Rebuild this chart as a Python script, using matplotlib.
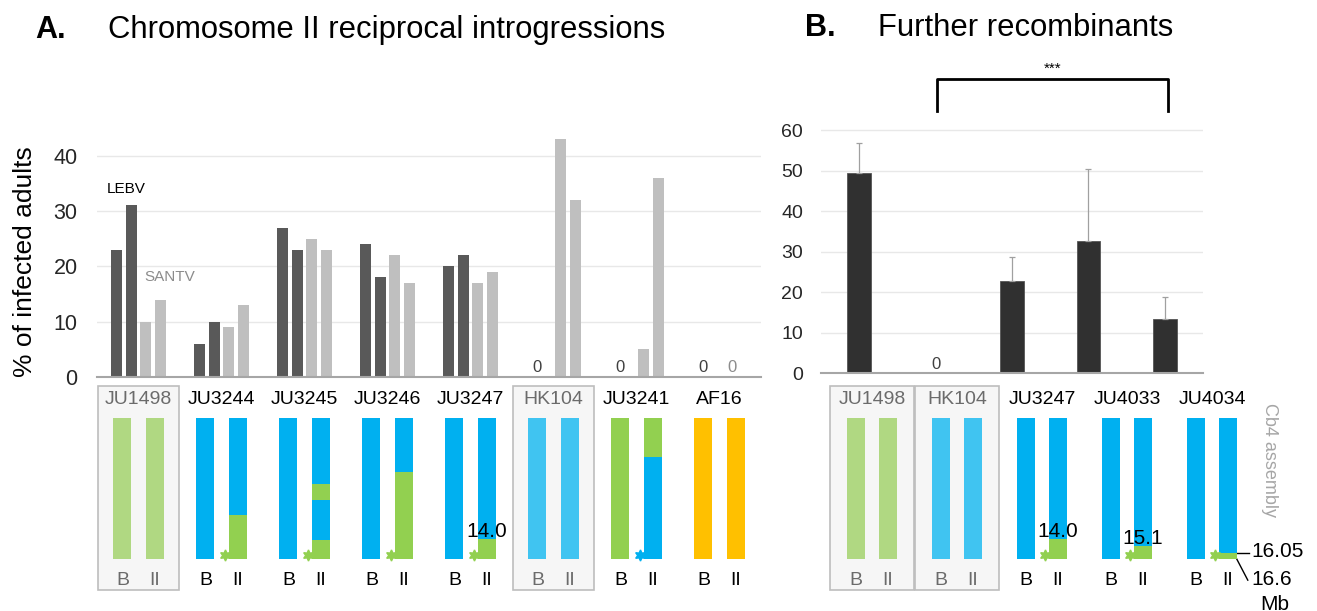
import matplotlib
matplotlib.use("Agg")
import matplotlib.pyplot as plt
from matplotlib.patches import Rectangle

plt.rcParams['font.family'] = ['Liberation Sans', 'DejaVu Sans']

W, H = 1317, 611

# ---- panel A: % infected adults, two replicates per virus
strains_a = ["JU1498", "JU3244", "JU3245", "JU3246", "JU3247", "HK104", "JU3241", "AF16"]
lebv_rep1 = [23, 6, 27, 24, 20, 0, 0, 0]
lebv_rep2 = [31, 10, 23, 18, 22, 0, 0, 0]
santv_rep1 = [10, 9, 25, 22, 17, 43, 5, 0]
santv_rep2 = [14, 13, 23, 17, 19, 32, 36, 0]

# ---- panel B: mean % infected (LEBV) with upper error
strains_b = ["JU1498", "HK104", "JU3247", "JU4033", "JU4034"]
infected_b = [49.3, 0, 22.8, 32.7, 13.3]
err_b = [7.5, 0, 5.8, 17.7, 5.5]

# ---- chromosome diagrams (fraction of chr II from the bottom)
BLUE = '#00b0f0'
GREEN = '#92d050'
PALE_GREEN = '#b0d882'
PALE_BLUE = '#40c4f1'
ORANGE = '#ffc000'

bg_a = [PALE_GREEN, BLUE, BLUE, BLUE, BLUE, PALE_BLUE, GREEN, ORANGE]
introg_a = [[], [(0, 0.31)], [(0, 0.135), (0.42, 0.53)], [(0, 0.62)], [(0, 0.14)], [], [(0, 0.72)], []]
introg_col_a = [None, GREEN, GREEN, GREEN, GREEN, None, BLUE, None]
parental_a = [True, False, False, False, False, True, False, False]
bkpt_a = ["", "", "", "", "14.0", "", "", ""]

bg_b = [PALE_GREEN, PALE_BLUE, BLUE, BLUE, BLUE]
introg_b = [[], [], [(0, 0.14)], [(0, 0.09)], [(0, 0.04)]]
introg_col_b = [None, None, GREEN, GREEN, GREEN]
parental_b = [True, True, False, False, False]
bkpt_b = ["", "", "14.0", "15.1", ""]


def px_axes(x0, y0, x1, y1):
    return fig.add_axes([x0 / W, 1 - y1 / H, (x1 - x0) / W, (y1 - y0) / H])


def style_bar_axes(ax, size, pad):
    for s in ['top', 'right', 'left']:
        ax.spines[s].set_visible(False)
    ax.spines['bottom'].set_color('#a6a6a6')
    ax.spines['bottom'].set_linewidth(1.5)
    ax.tick_params(length=0, labelsize=size, labelcolor='#262626', pad=pad)
    ax.set_xticks([])
    ax.yaxis.grid(True, color='#e8e8e8', lw=1)
    ax.set_axisbelow(True)


def draw_diagrams(ax, strains, bg, introg, introg_col, parental, bkpt, off, bw, unit_px):
    ytop_box = (559 - 386) / 141
    ybot_box = (559 - 590) / 141
    for i, s in enumerate(strains):
        xb, x2 = i - off, i + off
        if parental[i]:
            ax.add_patch(Rectangle((i - 0.49, ybot_box), 0.98, ytop_box - ybot_box,
                                   fc='#f6f6f6', ec='#bdbdbd', lw=1.2, zorder=0, clip_on=False))
        tc = '#6b6b6b' if parental[i] else 'black'
        ax.bar([xb, x2], [1, 1], width=bw, color=bg[i], zorder=2)
        for lo, hi in introg[i]:
            ax.bar(x2, hi - lo, bottom=lo, width=bw, color=introg_col[i], zorder=3)
        if introg[i] and introg[i][0][0] == 0:
            ax.plot(x2 - bw / 2 - 4 / unit_px, 0.03, marker=(6, 1, 0), ms=8,
                    color=introg_col[i], mec=introg_col[i], zorder=4, clip_on=False)
        if bkpt[i]:
            ax.text(x2, introg[i][0][1] - 0.01, bkpt[i], ha='center', va='bottom', fontsize=15, zorder=5)
        ax.text(i, 1.128, s, ha='center', va='center', fontsize=14, color=tc)
        ax.text(xb, -0.149, 'B', ha='center', va='center', fontsize=14, color=tc)
        ax.text(x2, -0.149, 'II', ha='center', va='center', fontsize=14, color=tc)
    ax.axis('off')


fig = plt.figure(figsize=(W / 100, H / 100), dpi=100)

# ---------------- panel A bars
axA = px_axes(97, 128, 761, 377)
offsets = [-0.27, -0.09, 0.09, 0.27]
series = [lebv_rep1, lebv_rep2, santv_rep1, santv_rep2]
colors = ['#595959', '#595959', '#bfbfbf', '#bfbfbf']
for off, vals, c in zip(offsets, series, colors):
    axA.bar([i + off for i in range(len(strains_a))], vals, width=0.133, color=c, zorder=2)
for i in range(len(strains_a)):
    if lebv_rep1[i] == 0 and lebv_rep2[i] == 0:
        axA.text(i - 0.2, 0.4, '0', ha='center', va='bottom', fontsize=12, color='#404040')
    if santv_rep1[i] == 0 and santv_rep2[i] == 0:
        axA.text(i + 0.15, 0.4, '0', ha='center', va='bottom', fontsize=12, color='#8c8c8c')
axA.set_xlim(-0.5, 7.5)
axA.set_ylim(0, 45)
axA.set_yticks([0, 10, 20, 30, 40])
style_bar_axes(axA, 15.5, 14)
axA.text(-0.38, 34, 'LEBV', fontsize=11, va='center', ha='left')
axA.text(0.07, 18, 'SANTV', fontsize=11, va='center', ha='left', color='#8c8c8c')

# ---------------- panel B bars
axB = px_axes(821, 122, 1203, 373)
xs = range(len(strains_b))
axB.bar(xs, infected_b, width=0.31, color='#303030', edgecolor='#555555', lw=0.6, zorder=2)
for i in xs:
    if err_b[i] > 0:
        axB.errorbar(i, infected_b[i], yerr=[[0], [err_b[i]]], fmt='none',
                     ecolor='#a0a0a0', elinewidth=0.9, capsize=2.5, capthick=0.9, zorder=3)
    if infected_b[i] == 0:
        axB.text(i, 0.3, '0', ha='center', va='bottom', fontsize=12, color='#404040')
axB.set_xlim(-0.5, 4.5)
axB.set_ylim(0, 62)
axB.set_yticks(range(0, 61, 10))
style_bar_axes(axB, 14, 13)
axB.plot([1.02, 1.02, 4.04, 4.04], [64.7, 72.6, 72.6, 64.7], color='black', lw=2,
         solid_joinstyle='round', clip_on=False)
axB.text(2.53, 73.5, '***', ha='center', va='bottom', fontsize=11)

# ---------------- chromosome diagrams
dA = px_axes(97, 386, 761, 611)
dA.set_xlim(-0.5, 7.5)
dA.set_ylim((559 - 611) / 141, (559 - 386) / 141)
draw_diagrams(dA, strains_a, bg_a, introg_a, introg_col_a, parental_a, bkpt_a, 0.193, 0.217, 83)

dB = px_axes(830, 386, 1317, 611)
dB.set_xlim((830 - 872) / 85, (1317 - 872) / 85)
dB.set_ylim((559 - 611) / 141, (559 - 386) / 141)
draw_diagrams(dB, strains_b, bg_b, introg_b, introg_col_b, parental_b, bkpt_b, 0.185, 0.212, 85)
# JU4034 breakpoint callouts
xr = 4 + 0.185 + 0.106
dB.plot([xr, xr + 0.15], [0.04, 0.04], color='black', lw=1)
dB.plot([xr, xr + 0.13], [0.0, -0.15], color='black', lw=1)
dB.text(xr + 0.17, 0.055, '16.05', fontsize=15, va='center', ha='left')
dB.text(xr + 0.17, -0.145, '16.6', fontsize=15, va='center', ha='left')
dB.text(xr + 0.45, -0.32, 'Mb', fontsize=15, va='center', ha='center')
dB.text(4.68, 0.70, 'Cb4 assembly', rotation=270, fontsize=13, color='#a6a6a6',
        ha='center', va='center')

# ---------------- titles / labels
fig.text(35 / W, 1 - 30 / H, 'A.', fontsize=22, weight='bold', va='center')
fig.text(108 / W, 1 - 30 / H, 'Chromosome II reciprocal introgressions', fontsize=22.3, va='center')
fig.text(805 / W, 1 - 28 / H, 'B.', fontsize=22, weight='bold', va='center')
fig.text(878 / W, 1 - 28 / H, 'Further recombinants', fontsize=22.3, va='center')
fig.text(25 / W, 1 - 262 / H, '% of infected adults', rotation=90, fontsize=19,
         va='center', ha='center')

fig.savefig('out.png', dpi=100)
